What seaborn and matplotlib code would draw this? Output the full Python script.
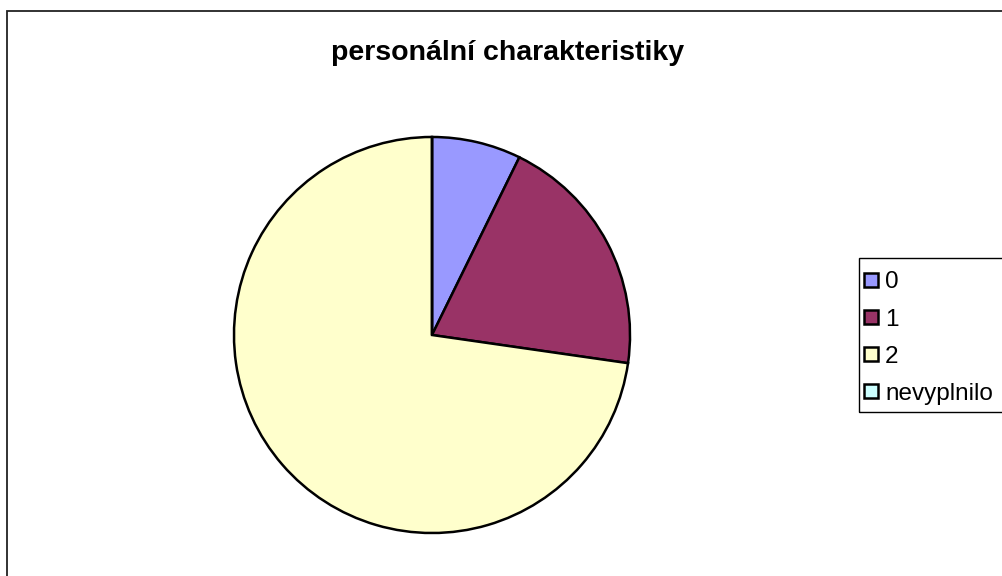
import numpy as np
import matplotlib
matplotlib.use("Agg")
import matplotlib.pyplot as plt
import seaborn as sns
from matplotlib.patches import Patch, Rectangle

sns.set_theme(style="white")
plt.rcParams['font.family'] = ['Liberation Sans', 'DejaVu Sans']
plt.rcParams['text.color'] = 'black'

# ---- data ----
title = "personální charakteristiky"
categories = ["0", "1", "2", "nevyplnilo"]
counts = [4, 11, 40, 0]
colors = ["#9999FF", "#993366", "#FFFFCC", "#CCFFFF"]

W, H = 1003, 576
fig = plt.figure(figsize=(W / 100, H / 100), dpi=100)
fig.patch.set_facecolor("white")

# outer chart frame (runs off the right / bottom edge like the original)
fig.patches.append(Rectangle((7 / W, -0.05), 1.05, 1 - 11 / H + 0.05,
                             transform=fig.transFigure, fill=False,
                             edgecolor="#222222", linewidth=1.3))

# pie axes: center ~ (432, 335), radius ~200 px
cx, cy, r = 432, 335, 200
ax = fig.add_axes([(cx - r) / W, (H - cy - r) / H, 2 * r / W, 2 * r / H])
ax.pie(counts, colors=colors, startangle=90, counterclock=False, radius=1,
       wedgeprops=dict(edgecolor="black", linewidth=1.8))
ax.set_xlim(-1.01, 1.01)
ax.set_ylim(-1.01, 1.01)
ax.set_aspect("equal")
ax.axis("off")

fig.text(508 / W, 1 - 53 / H, title, ha="center", va="center",
         fontsize=20.5, fontweight="bold", color="black")

# legend box
fig.patches.append(Rectangle((859 / W, 1 - 412 / H), 0.2, (412 - 258) / H,
                             transform=fig.transFigure, fill=False,
                             edgecolor="black", linewidth=1.0))
handles = [Patch(facecolor=c, edgecolor="black", linewidth=1.8) for c in colors]
fig.legend(handles, categories, loc="upper left",
           bbox_to_anchor=(862 / W, 1 - 269 / H), frameon=False,
           fontsize=17.5, handlelength=0.55, handleheight=0.55,
           handletextpad=0.3, labelspacing=0.62, borderaxespad=0,
           borderpad=0.1, labelcolor="black")

fig.savefig("out.png", dpi=100)
